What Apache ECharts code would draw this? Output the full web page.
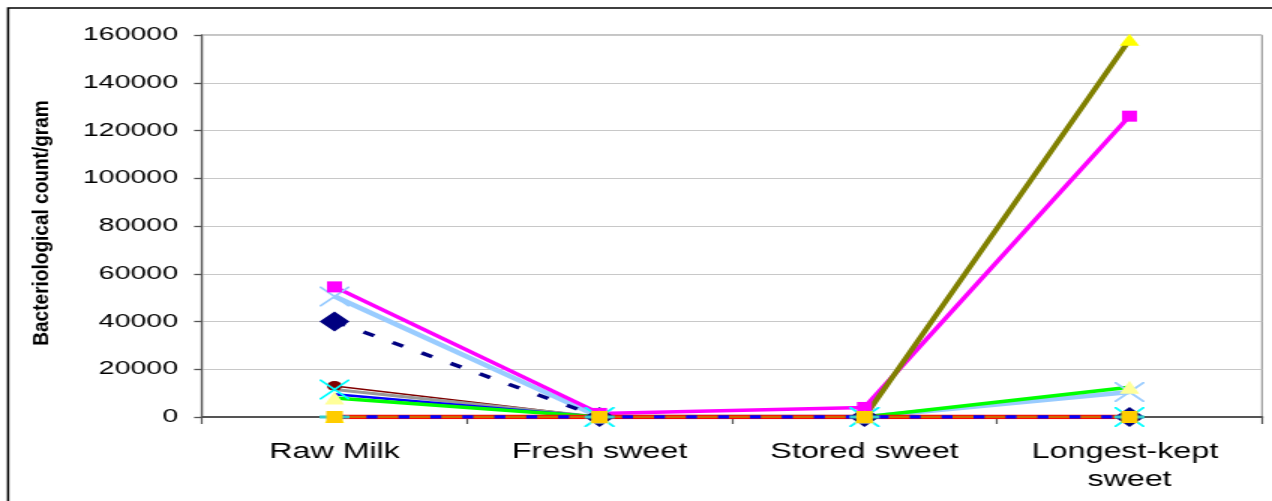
<!DOCTYPE html>
<html>
<head>
<meta charset="utf-8">
<script src="https://cdn.jsdelivr.net/npm/echarts@6/dist/echarts.min.js"></script>
<style>
html,body{margin:0;padding:0;background:#fff;overflow:hidden;width:1272px;height:501px;}
#c{width:848px;height:501px;transform:scaleX(1.5);transform-origin:0 0;}
</style>
</head>
<body>
<div id="c"></div>
<script>
// ---- data ----
const categories = ['Raw Milk', 'Fresh sweet', 'Stored sweet', 'Longest-kept sweet'];
const yMin = 0, yMax = 160000, yInterval = 20000;
const yAxisTitle = 'Bacteriological count/gram';

const lightBlueX     = [50500, 0, 0, 10500];
const navyDiamond    = [40000, 0, 0, 0];
const magentaSquare  = [54500, 1500, 4000, 126000];
const oliveTriangle  = [0, 0, 0, 158000];
const darkRedCircle  = [13000, 0, 0, 0];
const grayCyanX      = [11500, 0, 0, 0];
const blueLine       = [9500, 0, 0, 0];
const greenTriangle  = [8000, 0, 0, 12500];
const redLine        = [0, 0, 0, 0];
const orangeLine     = [0, 0, 0, 0];
const blueDashedGold = [0, 0, 0, 0];

// ---- chart ----
const X_PATH = 'path://M0,0L1.2,0L10,8.8L18.8,0L20,0L20,1.2L11.2,10L20,18.8L20,20L18.8,20L10,11.2L1.2,20L0,20L0,18.8L8.8,10L0,1.2Z';
const chart = echarts.init(document.getElementById('c'));

function s(name, data, color, width, symbol, size, symColor, extra) {
  const o = {
    name: name, type: 'line', data: data, animation: false,
    lineStyle: { color: color, width: width },
    itemStyle: { color: symColor || color },
    symbol: symbol || 'none', symbolSize: size || 0,
    showSymbol: !!symbol, showAllSymbol: true,
    emphasis: { disabled: true }
  };
  return Object.assign(o, extra || {});
}

chart.setOption({
  animation: false,
  backgroundColor: '#ffffff',
  grid: { left: 134.7, right: 6.7, top: 35, bottom: 84, show: true,
          borderColor: '#8a8a8a', borderWidth: 1, backgroundColor: 'transparent',
          containLabel: false, outerBoundsMode: 'none' },
  xAxis: {
    type: 'category', data: categories, boundaryGap: true,
    axisLine: { lineStyle: { color: '#555', width: 2 } },
    axisTick: { show: true, alignWithLabel: false, length: 7, lineStyle: { color: '#555', width: 1.2 } },
    axisLabel: { color: '#000', fontFamily: 'Liberation Sans', fontSize: 21.5, lineHeight: 28,
                 margin: 21, width: 176, overflow: 'break', interval: 0 },
    splitLine: { show: false }
  },
  yAxis: {
    type: 'value', min: yMin, max: yMax, interval: yInterval,
    axisLine: { show: true, lineStyle: { color: '#555', width: 1.3 } },
    axisTick: { show: true, length: 5.3, lineStyle: { color: '#555', width: 1.3 } },
    axisLabel: { color: '#000', fontFamily: 'Liberation Sans', fontSize: 19, margin: 16,
                 formatter: function (v) { return String(v); } },
    splitLine: { show: true, lineStyle: { color: '#c8c8c8', width: 1 } }
  },
  graphic: [
    { type: 'rect', shape: { x: 5.4, y: 8, width: 1000, height: 600 },
      style: { fill: 'none', stroke: '#000', lineWidth: 1.5 }, silent: true },
    { type: 'text', x: 27.7, y: 223, rotation: Math.PI / 2, scaleX: 1.36, silent: true,
      style: { text: yAxisTitle, font: 'bold 14px "Liberation Sans"', align: 'center',
               verticalAlign: 'middle', fill: '#000' } }
  ],
  series: [
    s('lightBlue', lightBlueX, '#99CCFF', 4.5, X_PATH, [20, 20], '#99CCFF'),
    s('navy', navyDiamond, '#000080', 3.5, 'diamond', [20, 20], '#000080',
      { lineStyle: { color: '#000080', width: 3.5, type: [8, 14] } }),
    s('magenta', magentaSquare, '#FF00FF', 3.5, 'rect', [10, 11], '#FF00FF'),
    s('olive', oliveTriangle, '#808000', 4, 'triangle', [13, 12], '#FFFF00'),
    s('darkRed', darkRedCircle, '#800000', 1.5, 'circle', [10, 10], '#800000'),
    s('gray', grayCyanX, '#999999', 3, X_PATH, [20, 20], '#00FFFF'),
    s('blue', blueLine, '#0000FF', 2.5),
    s('green', greenTriangle, '#00FF00', 3.5, 'triangle', [13, 13], '#FFFF99'),
    s('red', redLine, '#FF0000', 4.5),
    s('orange', orangeLine, '#CC6600', 2.5, 'rect', [20, 3], '#33CCCC'),
    s('blueDashed', blueDashedGold, '#0000FF', 3.5, 'rect', [11, 12], '#FFCC00',
      { lineStyle: { color: '#0000FF', width: 3.5, type: [7.3, 14] } })
  ]
});
</script>
</body>
</html>
